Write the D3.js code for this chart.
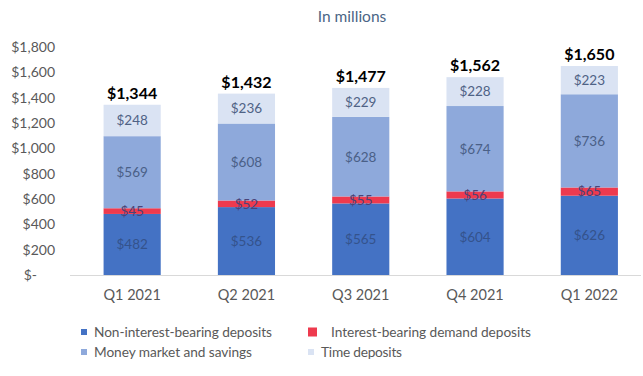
<!DOCTYPE html>
<html>
<head>
<meta charset="utf-8">
<script src="https://cdn.jsdelivr.net/npm/d3@7"></script>
<style>
  html, body { margin: 0; padding: 0; background: #ffffff; }
  svg { display: block; font-family: Lato, "Open Sans", sans-serif; }
</style>
</head>
<body>
<svg id="chart" width="643" height="376"></svg>
<script>
// Deposit composition by quarter, in millions of dollars
const quarters = ["Q1 2021", "Q2 2021", "Q3 2021", "Q4 2021", "Q1 2022"];
const nonInterestBearing = [482, 536, 565, 604, 626];
const interestBearingDemand = [45, 52, 55, 56, 65];
const moneyMarketSavings = [569, 608, 628, 674, 736];
const timeDeposits = [248, 236, 229, 228, 223];
const totals = [1344, 1432, 1477, 1562, 1650];
const yTicks = [0, 200, 400, 600, 800, 1000, 1200, 1400, 1600, 1800];

const seriesNames = [
  "Non-interest-bearing deposits",
  "Interest-bearing demand deposits",
  "Money market and savings",
  "Time deposits"
];
const seriesValues = [nonInterestBearing, interestBearingDemand, moneyMarketSavings, timeDeposits];
const seriesColors = ["#4472C4", "#EE3A4E", "#8EA9DB", "#DAE3F3"];
const labelColors = ["#34538c", "#4a4378", "#4a6087", "#4f6285"];

const svg = d3.select("#chart");

// Row table built from the series arrays, stacked bottom to top
const keys = seriesNames;
const rows = quarters.map((q, i) => {
  const r = { quarter: q };
  keys.forEach((k, j) => { r[k] = seriesValues[j][i]; });
  return r;
});
const stacked = d3.stack().keys(keys)(rows);

const x = d3.scaleBand()
  .domain(quarters)
  .range([75, 646.5])
  .paddingInner(0.5)
  .paddingOuter(0.25);

const y = d3.scaleLinear()
  .domain([0, 1800])
  .range([275, 47]);

// Subtitle
svg.append("text")
  .attr("x", 352)
  .attr("y", 22)
  .attr("text-anchor", "middle")
  .attr("font-size", 15.5)
  .attr("fill", "#4a6585")
  .text("In millions");

// Y axis (labels only)
const yAxis = d3.axisLeft(y)
  .tickValues(yTicks)
  .tickSize(0)
  .tickPadding(0)
  .tickFormat(d => d === 0 ? "$-" : "$" + d3.format(",")(d));

const yG = svg.append("g")
  .attr("transform", "translate(55,0)")
  .call(yAxis);
yG.select(".domain").remove();
yG.selectAll("text")
  .attr("font-family", "Lato, 'Open Sans', sans-serif")
  .attr("font-size", 14)
  .attr("fill", "#595959")
  .attr("dx", d => d === 0 ? -18 : 0);

// Stacked bars
const layers = svg.append("g").selectAll("g")
  .data(stacked)
  .join("g")
  .attr("fill", (d, i) => seriesColors[i]);

layers.selectAll("rect")
  .data(d => d)
  .join("rect")
  .attr("x", d => x(d.data.quarter))
  .attr("width", x.bandwidth())
  .attr("y", d => y(d[1]))
  .attr("height", d => y(d[0]) - y(d[1]));

// Segment value labels
stacked.forEach((layer, i) => {
  svg.append("g").selectAll("text")
    .data(layer)
    .join("text")
    .attr("x", d => x(d.data.quarter) + x.bandwidth() / 2)
    .attr("y", d => (y(d[0]) + y(d[1])) / 2)
    .attr("dy", "0.36em")
    .attr("text-anchor", "middle")
    .attr("font-size", 13.5)
    .attr("fill", labelColors[i])
    .text(d => "$" + (d[1] - d[0]));
});

// Baseline
svg.append("line")
  .attr("x1", 70)
  .attr("x2", 641)
  .attr("y1", y(0) + 0.5)
  .attr("y2", y(0) + 0.5)
  .attr("stroke", "#d9d9d9")
  .attr("stroke-width", 1);

// Totals above each bar
svg.append("g").selectAll("text")
  .data(quarters)
  .join("text")
  .attr("x", q => x(q) + x.bandwidth() / 2)
  .attr("y", (q, i) => y(totals[i]) - 6)
  .attr("text-anchor", "middle")
  .attr("font-size", 16)
  .attr("font-weight", "bold")
  .attr("fill", "#000000")
  .text((q, i) => "$" + d3.format(",")(totals[i]));

// X axis labels
const xAxis = d3.axisBottom(x).tickSize(0).tickPadding(0);
const xG = svg.append("g")
  .attr("transform", "translate(0,290)")
  .call(xAxis);
xG.select(".domain").remove();
xG.selectAll("text")
  .attr("font-family", "Lato, 'Open Sans', sans-serif")
  .attr("font-size", 14.5)
  .attr("fill", "#595959")
  .attr("dy", "0.36em")
  .attr("y", 5);

// Legend
const legendItems = [
  { i: 0, x: 81, y: 332, size: 6, width: 178 },
  { i: 1, x: 308, y: 332, size: 9, textX: 331, width: 200 },
  { i: 2, x: 81, y: 352, size: 6, width: 158 },
  { i: 3, x: 308, y: 352, size: 6, width: 81 }
];
const legend = svg.append("g");
legendItems.forEach(it => {
  legend.append("rect")
    .attr("x", it.x)
    .attr("y", it.y - it.size / 2)
    .attr("width", it.size)
    .attr("height", it.size)
    .attr("fill", seriesColors[it.i]);
  legend.append("text")
    .attr("x", it.textX || (it.x + it.size + 7))
    .attr("y", it.y)
    .attr("dy", "0.36em")
    .attr("font-size", 13.7)
    .attr("fill", "#595959")
    .attr("textLength", it.width)
    .attr("lengthAdjust", "spacing")
    .text(seriesNames[it.i]);
});
</script>
</body>
</html>
